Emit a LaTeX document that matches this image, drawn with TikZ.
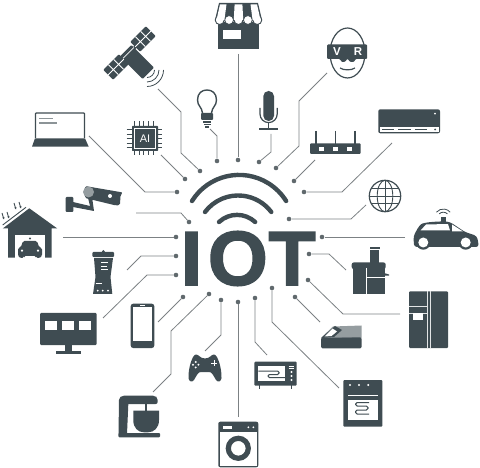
\documentclass[tikz,border=0pt]{standalone}
\usepackage{fontspec}
\setmainfont{Liberation Sans}
\usetikzlibrary{arrows.meta}
\font\iotfont="Liberation Sans/B:embolden=2" at 77pt
\definecolor{iotdark}{HTML}{3F4C52}
\definecolor{iotwire}{HTML}{7C8184}
\definecolor{iotdot}{HTML}{60696D}
\tikzset{
  icon/.style={fill=iotdark},
  hole/.style={fill=white},
  iconline/.style={draw=iotdark, line width=1.2pt},
  holeline/.style={draw=white, line width=0.8pt},
  wire/.style={draw=iotwire, line width=0.8pt, line join=round},
  linkdot/.style={circle, fill=iotdot, inner sep=0pt, minimum size=4.6pt},
  wifiarc/.style={draw=iotdark, line width=4.4pt, line cap=round},
}
\begin{document}
\begin{tikzpicture}[x=1pt,y=-1pt]
\useasboundingbox (0,0) rectangle (480,468);
% title and wifi
\node[font=\iotfont, text=iotdark, inner sep=0pt, anchor=west] (iot) at (180.6,258.5) {I\kern5.7pt O\kern0.8pt T};
\coordinate (wifia) at (192,201);
\coordinate (wifib) at (205,212);
\coordinate (wific) at (219,222);
\draw[wifiarc] (wifia) arc[start angle=-148, end angle=-32, radius=55.5];
\draw[wifiarc] (wifib) arc[start angle=-143, end angle=-37, radius=41.5];
\draw[wifiarc] (wific) arc[start angle=-133, end angle=-47, radius=26.5];
% connectors, clockwise from the shop
\node[linkdot] (shopdot) at (238,160) {};
\coordinate (shopend) at (238,54);
\draw[wire] (shopend) -- (shopdot);
\node[linkdot] (micdot) at (259,162) {};
\coordinate (micend) at (271,134);
\draw[wire] (micend) -- (271,152) -- (micdot);
\node[linkdot] (vrdot) at (276,168) {};
\coordinate (vrend) at (327,73);
\draw[wire] (vrend) -- (299,101) -- (299,146) -- (vrdot);
\node[linkdot] (routerdot) at (294,181) {};
\coordinate (routerend) at (315,160);
\draw[wire] (routerend) -- (routerdot);
\node[linkdot] (acdot) at (304,192) {};
\coordinate (acend) at (392,143);
\draw[wire] (acend) -- (342,192) -- (acdot);
\node[linkdot] (globedot) at (289,219) {};
\coordinate (globeend) at (366,205);
\draw[wire] (globeend) -- (351,219) -- (globedot);
\node[linkdot] (cardot) at (322,237) {};
\coordinate (carend) at (405,237);
\draw[wire] (carend) -- (cardot);
\node[linkdot] (juicerdot) at (309,254) {};
\coordinate (juicerend) at (346,270);
\draw[wire] (juicerend) -- (329,254) -- (juicerdot);
\node[linkdot] (fridgedot) at (308,280) {};
\coordinate (fridgeend) at (400,314);
\draw[wire] (fridgeend) -- (343,314) -- (fridgedot);
\node[linkdot] (scaledot) at (295,297) {};
\coordinate (scaleend) at (320,322);
\draw[wire] (scaleend) -- (scaledot);
\node[linkdot] (ovendot) at (272,288) {};
\coordinate (ovenend) at (339,388);
\draw[wire] (ovenend) -- (272,322) -- (ovendot);
\node[linkdot] (microdot) at (255,298) {};
\coordinate (microend) at (267,355);
\draw[wire] (microend) -- (255,342) -- (microdot);
\node[linkdot] (washerdot) at (238,302) {};
\coordinate (washerend) at (238,417);
\draw[wire] (washerend) -- (washerdot);
\node[linkdot] (paddot) at (221,300) {};
\coordinate (padend) at (205,351);
\draw[wire] (padend) -- (221,335) -- (paddot);
\node[linkdot] (mixerdot) at (209,294) {};
\coordinate (mixerend) at (153,392);
\draw[wire] (mixerend) -- (171,374) -- (171,331) -- (mixerdot);
\node[linkdot] (phonedot) at (183,297) {};
\coordinate (phoneend) at (158,322);
\draw[wire] (phoneend) -- (phonedot);
\node[linkdot] (tvdot) at (176,275) {};
\coordinate (tvend) at (103,318);
\draw[wire] (tvend) -- (147,275) -- (tvdot);
\node[linkdot] (blenderdot) at (176,256) {};
\coordinate (blenderend) at (127,270);
\draw[wire] (blenderend) -- (141,256) -- (blenderdot);
\node[linkdot] (garagedot) at (176,237) {};
\coordinate (garageend) at (63,237);
\draw[wire] (garageend) -- (garagedot);
\node[linkdot] (cameradot) at (189,222) {};
\coordinate (cameraend) at (136,213);
\draw[wire] (cameraend) -- (181,213) -- (cameradot);
\node[linkdot] (laptopdot) at (177,192) {};
\coordinate (laptopend) at (89,136);
\draw[wire] (laptopend) -- (145,192) -- (laptopdot);
\node[linkdot] (chipdot) at (185,179) {};
\coordinate (chipend) at (161,155);
\draw[wire] (chipend) -- (chipdot);
\node[linkdot] (satdot) at (200,171) {};
\coordinate (satend) at (158,89);
\draw[wire] (satend) -- (181,112) -- (181,153) -- (satdot);
\node[linkdot] (bulbdot) at (217,161) {};
\coordinate (bulbend) at (210,129);
\draw[wire] (bulbend) -- (217,136) -- (bulbdot);
% shop
\fill[icon] (218,22) rectangle (259,49);
\fill[hole] (223,30) rectangle (241,39);
\fill[icon] (219,3) -- (258,3) -- (262,20) -- (215,20) -- cycle;
\foreach \sx in {219.7,229.1,238.5,247.9,257.3}
  \filldraw[fill=white, draw=iotdark, line width=0.9pt] (\sx,20) circle (4.5);
\fill[hole] (220,4.3) -- (226.5,4.3) -- (224.4,20) -- (216.5,20) -- cycle;
\fill[hole] (234.6,4.3) -- (242.4,4.3) -- (243.2,20) -- (233.8,20) -- cycle;
\fill[hole] (257,4.3) -- (250.5,4.3) -- (252.6,20) -- (260.5,20) -- cycle;
% satellite
\draw[iconline, line width=3pt] (116,67) -- (142,40);
\fill[icon, rounded corners=1pt, shift={(137,62)}, rotate=-45] (-16,-8) rectangle (16,8);
\draw[holeline, shift={(137,62)}, rotate=-45] (-12.5,-8) -- (-12.5,8);
\foreach \px/\py in {143/39,116/67} {
  \fill[icon, rounded corners=1pt, shift={(\px,\py)}, rotate=45] (-11,-7) rectangle (11,7);
  \draw[holeline, shift={(\px,\py)}, rotate=45] (-11,0) -- (11,0) (-3.7,-7) -- (-3.7,7) (3.7,-7) -- (3.7,7);
}
\foreach \wr in {7.5,12,16.5}
  \draw[iconline, line width=0.8pt] (147+\wr,70) arc[start angle=0, end angle=90, radius=\wr];
% bulb
\draw[iconline, line width=1.4pt] (202.5,113) .. controls (202,107) and (197.5,106) .. (197.5,100) .. controls (197.5,93) and (202,90) .. (207,90) .. controls (212,90) and (216.5,93) .. (216.5,100) .. controls (216.5,106) and (212,107) .. (211.5,113);
\fill[icon, rounded corners=1pt] (201,113) rectangle (213,120);
\fill[icon] (203,121) rectangle (211,122.6);
\fill[icon] (203.5,124) rectangle (210.5,125.4);
\fill[icon] (205,126.5) rectangle (209,127.6);
% microphone
\fill[icon, rounded corners=5.2pt] (263.3,91) rectangle (274,121);
\draw[iconline] (260,108) -- (260,114) arc[start angle=180, end angle=0, radius=8.6] -- (277.2,108);
\draw[iconline] (268.6,122.6) -- (268.6,128);
\draw[iconline, line width=1.6pt] (259,129) -- (278,129);
% vr head
\draw[iconline] (347.5,53) ellipse (17.5 and 25);
\fill[icon, rounded corners=1pt] (327,44.5) -- (367,44.5) -- (367,59) -- (355.5,59) -- (354,62) -- (350,62) -- (347.5,58.5) -- (345,62) -- (341.5,62) -- (340,59) -- (327,59) -- cycle;
\node[font=\fontsize{11.5}{11.5}\selectfont\bfseries, text=white, inner sep=0pt] (vrv) at (337,52) {V};
\node[font=\fontsize{11.5}{11.5}\selectfont\bfseries, text=white, inner sep=0pt] (vrr) at (358,52) {R};
\draw[iconline] (340,68) .. controls (344,70.5) and (351,70.5) .. (355,68);
% router
\draw[iconline, line width=1.6pt] (316,131) -- (316,144) (335.3,131) -- (335.3,144) (354.7,131) -- (354.7,144);
\fill[icon, rounded corners=1pt] (310,143.3) rectangle (360.7,154);
\fill[hole] (318.7,147) rectangle (324,151);
\fill[hole] (332.7,147) rectangle (338,151);
\fill[hole] (346.7,147) rectangle (352,151);
% air conditioner
\fill[icon, rounded corners=2pt] (378.3,109.3) rectangle (440,133.3);
\fill[hole] (379.5,127) rectangle (438.8,132.2);
\draw[iconline, line width=1pt] (382,129.5) -- (394,129.5) (398,129.5) -- (411,129.5) (414.5,129.5) -- (427,129.5);
\fill[icon] (435,129.5) circle (1);
\fill[hole] (435,113.7) circle (1);
% globe
\draw[iconline] (385,196) circle (15.7);
\draw[iconline, line width=0.9pt] (385,196) ellipse (7.8 and 15.7);
\draw[iconline, line width=0.9pt] (385,180.3) -- (385,211.7) (369.3,196) -- (400.7,196) (371.2,188.5) -- (398.8,188.5) (371.2,203.5) -- (398.8,203.5);
% self driving car
\fill[icon, rounded corners=3pt] (414,247) -- (413.5,236) -- (419,226) .. controls (424,222) and (442,221) .. (450,222) -- (465,232) -- (477,236) -- (479,247) -- cycle;
\fill[hole] (420.5,230.5) -- (426,224.5) -- (448,224) -- (450,230.5) -- cycle;
\fill[hole] (452,224.5) -- (463,231.5) -- (452,231.5) -- cycle;
\fill[icon] (423.3,242.5) circle (7.2);
\fill[icon] (465.7,242.5) circle (7.2);
\fill[hole] (423.3,242.5) circle (5);
\fill[hole] (465.7,242.5) circle (5);
\fill[icon] (441,216.7) rectangle (445.7,222);
\draw[iconline, line width=0.8pt] (443.3,218) ++(-140:9) arc[start angle=-140, end angle=-40, radius=9];
\draw[iconline, line width=0.8pt] (443.3,218) ++(-135:5.8) arc[start angle=-135, end angle=-45, radius=5.8];
% juicer
\fill[icon] (370,250) rectangle (379.3,263);
\fill[icon] (369.5,247.5) rectangle (379.8,249.5);
\fill[icon, rounded corners=2pt] (351.7,262.5) rectangle (385.7,269);
\fill[icon] (353,267) rectangle (385,294);
\fill[icon] (385,273.3) -- (389,274.5) -- (389,275.7) -- (385,275.7) -- cycle;
\draw[holeline] (366.7,268) -- (366.7,294) (366.7,277.3) -- (385,277.3);
% fridge
\fill[icon, rounded corners=1pt] (409,291.3) rectangle (448,348);
\draw[draw=white!85!iotdark, line width=1pt] (427,291.3) -- (427,348) (430.3,291.3) -- (430.3,348);
\draw[draw=white!85!iotdark, line width=0.9pt] (409,306.3) -- (427,306.3) (409,313.5) -- (427,313.5);
\fill[hole] (412.7,313.5) rectangle (423.3,320);
% scale
\fill[iotdark!55] (322,337) -- (333,326.5) -- (361.7,325.5) -- (361.7,338) -- cycle;
\fill[icon, rounded corners=1.5pt] (321,337.3) -- (361.7,337.3) -- (361.7,348.3) -- (321,348.3) -- cycle;
\fill[icon] (321,338) -- (334,337) -- (342,330) -- (335,326) -- cycle;
\fill[hole] (324.5,336.5) -- (332.5,328.5) -- (337,331.5) -- (331.5,336) -- cycle;
% oven
\fill[icon, rounded corners=1pt] (343.3,380) rectangle (382.3,426.7);
\foreach \ox in {350,359,368.3}
  \fill[hole] (\ox,385) circle (1.1);
\fill[hole] (348.3,395) rectangle (377.7,396.4);
\fill[hole] (348.3,399.7) rectangle (377.7,419.7);
\draw[iconline, line width=1pt, rounded corners=1.6pt] (369,402.5) -- (355.5,402.5) -- (355.5,406) -- (368,406) -- (368,410) -- (355.5,410) -- (355.5,414) -- (369,414);
% microwave
\fill[icon, rounded corners=1pt] (254.3,361.7) rectangle (296.7,385.7);
\fill[icon] (258.5,385) rectangle (259.7,388.5);
\fill[icon] (291,385) rectangle (292.2,388.5);
\fill[hole] (258.3,366.3) rectangle (285,381.3);
\draw[iconline, line width=1pt, rounded corners=1.3pt] (258.3,371) -- (279,371) -- (279,374.5) -- (268,374.5) -- (268,377.5) -- (285,377.5);
\draw[holeline] (288.5,366.5) -- (293.7,366.5) (288.5,368.7) -- (293.7,368.7);
\foreach \my in {372,376,380}
  \fill[hole] (291.5,\my) circle (1.2);
% washer
\fill[icon, rounded corners=2pt] (218.3,421.7) rectangle (258.3,467.3);
\fill[hole] (220,432) rectangle (256.7,466);
\fill[hole] (223.3,425.7) rectangle (231.7,429);
\fill[hole] (248.3,427.3) circle (1);
\fill[hole] (253.3,427.3) circle (1);
\draw[iconline, line width=5.2pt] (238.3,448.3) circle (10);
% game pad
\fill[icon] (196,354.5) .. controls (199,354.5) and (200,358.5) .. (205,358.5) .. controls (210,358.5) and (211,354.5) .. (214,354.5) .. controls (218,354.5) and (222,370) .. (221.5,378) .. controls (221.5,381) and (218,383) .. (216,380) .. controls (213,375) and (212,372) .. (209,372) -- (201,372) .. controls (198,372) and (197,375) .. (194,380) .. controls (192,383) and (188.5,381) .. (188.5,378) .. controls (188,370) and (192,354.5) .. (196,354.5) -- cycle;
\foreach \gx/\gy in {195.7/362,195.7/367.4,193/364.7,198.4/364.7}
  \fill[hole] (\gx,\gy) circle (1.1);
\draw[holeline] (214.3,360.3) -- (214.3,366.3) (211.3,363.3) -- (217.3,363.3);
% stand mixer
\fill[icon, rounded corners=2pt] (119,404) -- (119,398) -- (122,395.7) -- (155,395.7) -- (157.7,398) -- (157.7,404) -- cycle;
\fill[icon] (119,400) -- (128.5,400) -- (127,434) -- (118.5,434) -- cycle;
\fill[icon, rounded corners=1pt] (118.3,433) rectangle (160,437.3);
\draw[iconline, line width=1.6pt] (145.7,404) -- (145.7,412);
\fill[icon] (133.3,410.7) -- (159,410.7) -- (159,420) .. controls (159,428) and (154,432.3) .. (148,432.3) -- (144,432.3) .. controls (138,432.3) and (133.3,428) .. (133.3,420) -- cycle;
% phone
\fill[icon, rounded corners=2.5pt] (130.7,303.7) rectangle (154.3,348);
\fill[hole] (132.7,307.5) rectangle (152.3,340.7);
\draw[holeline, line width=0.5pt] (140,305.6) -- (145,305.6);
% monitor
\fill[icon, rounded corners=1pt] (40,313) rectangle (96.7,345);
\fill[hole] (45,320.7) rectangle (57.3,329.7);
\fill[hole] (62.3,320.7) rectangle (74.3,329.7);
\fill[hole] (79.3,320.7) rectangle (91.3,329.7);
\fill[icon] (65,345) rectangle (72.3,351);
\fill[icon] (56,351) rectangle (80.7,353.7);
% blender
\fill[icon] (103.3,251.5) circle (1.5);
\fill[icon, rounded corners=1pt] (92.3,252) rectangle (114,257);
\fill[icon] (94,258) -- (113,258) -- (110.5,277) -- (112.3,294) -- (93,294) -- (95.5,277) -- cycle;
\draw[holeline] (101,262.3) -- (108,262.3) (101,266.3) -- (106.5,266.3) (101,269.7) -- (108,269.7) (95.5,283) -- (101.7,283);
\foreach \bx in {97.7,102.7,108}
  \fill[hole] (\bx,290.7) circle (1);
% garage
\fill[icon] (29.3,208.3) -- (57.3,228.5) -- (51.7,228.5) -- (51.7,257.7) -- (8,257.7) -- (8,228.5) -- (2.7,228.5) -- cycle;
\fill[hole] (14.7,235) rectangle (45,257.7);
\draw[iconline, line width=0.9pt] (2.7,225) -- (26,207.3);
\foreach \rx/\ry in {2/213,7/212,14/203,19/202}
  \draw[iconline, line width=0.9pt, -{Stealth[length=2.4pt, width=2.4pt]}] (\rx,\ry) -- (\rx+2,\ry+6.5);
\fill[icon] (30,238.5) circle (1.2);
\fill[icon, rounded corners=1.5pt] (23,241) -- (37,241) -- (39,247) -- (42,248) -- (42,256) -- (40,258) -- (36,258) -- (36,256) -- (24,256) -- (24,258) -- (20,258) -- (18,256) -- (18,248) -- (21,247) -- cycle;
\fill[hole] (22,250.7) circle (1.2);
\fill[hole] (38,250.7) circle (1.2);
% security camera
\fill[icon, rounded corners=1pt] (65.7,197) rectangle (73.3,212);
\fill[icon] (73,202) -- (90,206) -- (88,198) -- (92,197) -- (94,211) -- (73,207) -- cycle;
\fill[icon, rounded corners=1.5pt] (85,186) -- (123,192.5) -- (120.5,195) -- (120,205) -- (116,205.5) -- (85,198) -- cycle;
\fill[iotdark!55] (88.5,192) circle (5.5);
\fill[hole] (110,196) circle (2);
% laptop
\draw[iconline, line width=1.3pt, rounded corners=0.8pt] (35.5,138) -- (35.5,113) -- (84.5,113) -- (84.5,138);
\fill[icon] (35,138.3) -- (85,138.3) -- (88.7,146.7) -- (32,146.7) -- cycle;
\draw[draw=iotdark!60, line width=1.2pt] (39,118.3) -- (52.7,118.3) (39,123) -- (56.7,123);
% ai chip
\foreach \cx in {134.5,139,143.7,148.7,153.3}
  \draw[iconline, line width=0.8pt] (\cx,121) -- (\cx,155);
\foreach \cy in {129.5,134,138.5,143,147.5}
  \draw[iconline, line width=0.8pt] (126.7,\cy) -- (162,\cy);
\fill[icon, rounded corners=0.6pt] (132,126) rectangle (158,151);
\draw[holeline, line width=0.7pt] (134.7,128.5) rectangle (155.3,148.5);
\node[font=\fontsize{11}{11}\selectfont, text=white, inner sep=0pt] (chiptext) at (145,138.5) {AI};
\end{tikzpicture}
\end{document}
